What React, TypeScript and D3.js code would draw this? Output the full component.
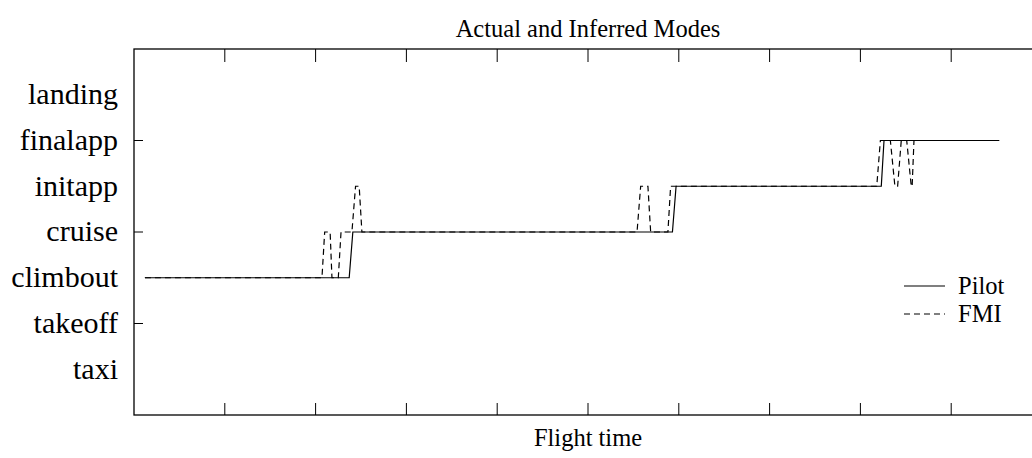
import React from "react";
import * as d3 from "d3";

const modeLabels = ["taxi", "takeoff", "climbout", "cruise", "initapp", "finalapp", "landing"];
const modeValues = [1, 2, 3, 4, 5, 6, 7];
const yTickValues = [2, 4, 6];
const xTickValues = [1, 2, 3, 4, 5, 6, 7, 8, 9];

// Pilot (actual) mode: [flight time, mode index]
const pilotTime = [0.12, 2.37, 2.41, 5.93, 5.97, 8.23, 8.26, 9.53];
const pilotMode = [3, 3, 4, 4, 5, 5, 6, 6];

// FMI (inferred) mode
const fmiTime = [
  0.12, 2.07, 2.1, 2.16, 2.18, 2.25, 2.28, 2.4, 2.44, 2.48, 2.51,
  5.54, 5.58, 5.66, 5.69, 5.88, 5.91,
  8.18, 8.22, 8.33, 8.38, 8.41, 8.45, 8.51, 8.56, 8.57, 8.59, 9.53,
];
const fmiMode = [
  3, 3, 4, 4, 3, 3, 4, 4, 5, 5, 4,
  4, 5, 5, 4, 4, 5,
  5, 6, 6, 5, 5, 6, 6, 5, 5, 6, 6,
];

const W = 1032;
const H = 458;
const left = 134;
const right = 1042;
const top = 49;
const bottom = 415;

export default function App() {
  const x = d3.scaleLinear().domain([0, 10]).range([left, right]);
  const y = d3.scaleLinear().domain([0, 8]).range([bottom, top]);
  const line = d3
    .line<[number, number]>()
    .x((d) => x(d[0]))
    .y((d) => y(d[1]));
  const pilot = pilotTime.map((t, i) => [t, pilotMode[i]] as [number, number]);
  const fmi = fmiTime.map((t, i) => [t, fmiMode[i]] as [number, number]);
  const font = "'Liberation Serif', 'Times New Roman', serif";
  const cx = (left + right) / 2;

  return (
    <svg
      width={W}
      height={H}
      style={{ position: "absolute", left: 0, top: 0, background: "#fff" }}
      fontFamily={font}
    >
      <rect x={0} y={0} width={W} height={H} fill="#fff" />
      <text x={cx} y={37} textAnchor="middle" fontSize={24.5} fill="#000">
        Actual and Inferred Modes
      </text>
      <text x={cx} y={446} textAnchor="middle" fontSize={24.5} fill="#000">
        Flight time
      </text>
      {/* frame */}
      <rect
        x={left}
        y={top}
        width={right - left}
        height={bottom - top}
        fill="none"
        stroke="#000"
        strokeWidth={1.3}
      />
      {/* x ticks */}
      {xTickValues.map((v) => (
        <g key={"xt" + v}>
          <line x1={x(v)} x2={x(v)} y1={bottom} y2={bottom - 12} stroke="#000" strokeWidth={1} />
          <line x1={x(v)} x2={x(v)} y1={top} y2={top + 13} stroke="#000" strokeWidth={1} />
        </g>
      ))}
      {/* y ticks */}
      {yTickValues.map((v) => (
        <line key={"yt" + v} x1={left} x2={left + 9} y1={y(v)} y2={y(v)} stroke="#000" strokeWidth={1} />
      ))}
      {/* y labels */}
      {modeValues.map((v, i) => (
        <text
          key={"yl" + v}
          x={118}
          y={y(v)}
          dy="0.31em"
          textAnchor="end"
          fontSize={30}
          fill="#000"
        >
          {modeLabels[i]}
        </text>
      ))}
      {/* data */}
      <path d={line(pilot) || ""} fill="none" stroke="#000" strokeWidth={1.2} />
      <path d={line(fmi) || ""} fill="none" stroke="#000" strokeWidth={1.2} strokeDasharray="6,4" />
      {/* legend */}
      <line x1={904} x2={945} y1={286} y2={286} stroke="#000" strokeWidth={1.2} />
      <text x={958} y={294} fontSize={24.5} fill="#000">
        Pilot
      </text>
      <line x1={904} x2={945} y1={314} y2={314} stroke="#000" strokeWidth={1.2} strokeDasharray="6,4" />
      <text x={958} y={322} fontSize={24.5} fill="#000">
        FMI
      </text>
    </svg>
  );
}
